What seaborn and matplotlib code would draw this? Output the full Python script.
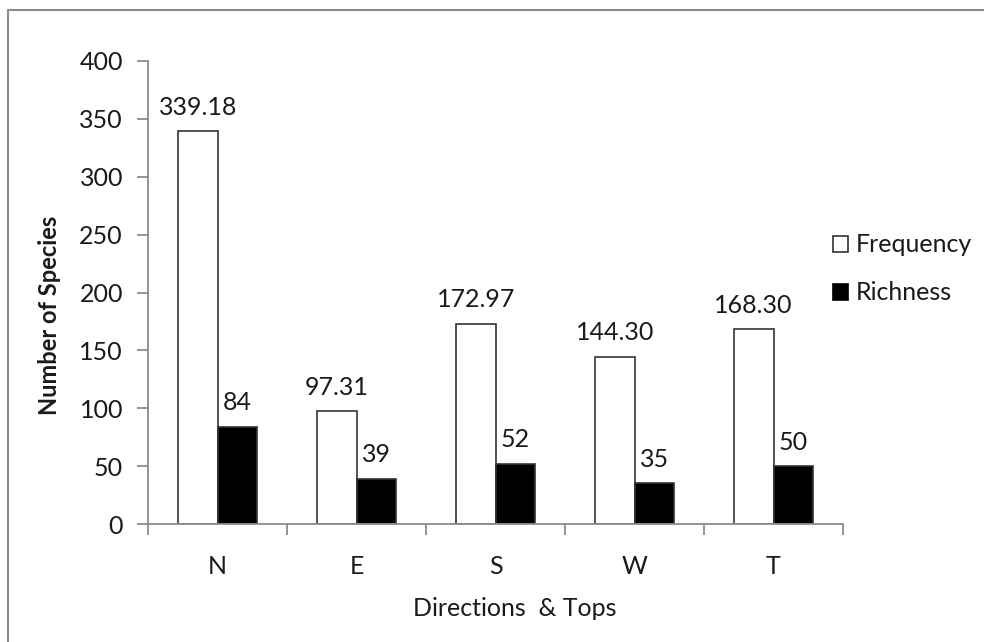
import matplotlib
matplotlib.use("Agg")
import matplotlib.pyplot as plt
import seaborn as sns
import pandas as pd
from matplotlib.lines import Line2D
from matplotlib.patches import Patch

categories = ["N", "E", "S", "W", "T"]
frequency = [339.18, 97.31, 172.97, 144.30, 168.30]
richness = [84, 39, 52, 35, 50]
series_names = ["Frequency", "Richness"]
y_ticks = [0, 50, 100, 150, 200, 250, 300, 350, 400]

df = pd.DataFrame({
    "Direction": categories * 2,
    "Series": [series_names[0]] * len(categories) + [series_names[1]] * len(categories),
    "Value": frequency + richness,
})

sns.set_theme(style="white")
plt.rcParams["font.family"] = ["Lato", "DejaVu Sans"]

fig = plt.figure(figsize=(9.84, 6.42), dpi=100)
ax = fig.add_axes([148 / 984, 1 - 524 / 642, (843 - 148) / 984, (524 - 61) / 642])

sns.barplot(data=df, x="Direction", y="Value", hue="Series", order=categories,
            hue_order=series_names, palette=["white", "black"], width=0.57,
            edgecolor="#333333", linewidth=1.2, ax=ax, legend=False, saturation=1)

# value labels
for i, c in enumerate(ax.containers):
    vals = frequency if i == 0 else richness
    labels = [f"{v:.2f}" if i == 0 else f"{int(v)}" for v in vals]
    ax.bar_label(c, labels=labels, padding=9, fontsize=18, color="#1a1a1a")

ax.set_xlim(-0.5, len(categories) - 0.5)
ax.set_ylim(0, 400)
ax.set_yticks(y_ticks)
ax.set_xlabel("")
ax.set_ylabel("")

for s in ["top", "right"]:
    ax.spines[s].set_visible(False)
for s in ["left", "bottom"]:
    ax.spines[s].set_color("#8c8c8c")
    ax.spines[s].set_linewidth(1.3)

ax.tick_params(axis="y", direction="out", length=8, width=1.3, color="#8c8c8c",
               labelsize=18, labelcolor="#1a1a1a", pad=10, left=True)
ax.tick_params(axis="x", which="major", length=0, labelsize=18, labelcolor="#1a1a1a", pad=22)
ax.set_xticks([x - 0.5 for x in range(len(categories) + 1)], minor=True)
ax.tick_params(axis="x", which="minor", direction="out", length=8, width=1.3,
               color="#8c8c8c", bottom=True)

fig.text(50 / 984, 1 - 315 / 642, "Number of Species", rotation=90, ha="center",
         va="center", fontsize=17, fontweight="bold", color="#1a1a1a")
fig.text(515 / 984, 1 - 608 / 642, "Directions  & Tops", ha="center", va="center",
         fontsize=18, color="#1a1a1a")

handles = [Patch(facecolor="white", edgecolor="#333333", linewidth=1.2),
           Patch(facecolor="black", edgecolor="black", linewidth=1.2)]
fig.legend(handles, series_names, loc="center left",
           bbox_to_anchor=(810 / 984, 1 - 269 / 642), frameon=False, fontsize=18,
           handlelength=0.6, handleheight=0.6, handletextpad=0.35, labelspacing=1.0,
           labelcolor="#1a1a1a")

# outer chart border (top and left visible)
fig.add_artist(Line2D([8 / 984, 1.0], [1 - 10 / 642, 1 - 10 / 642],
                      transform=fig.transFigure, color="#8c8c8c", linewidth=1.5))
fig.add_artist(Line2D([8 / 984, 8 / 984], [0.0, 1 - 10 / 642],
                      transform=fig.transFigure, color="#8c8c8c", linewidth=1.5))

fig.savefig("out.png", dpi=100, facecolor="white")
